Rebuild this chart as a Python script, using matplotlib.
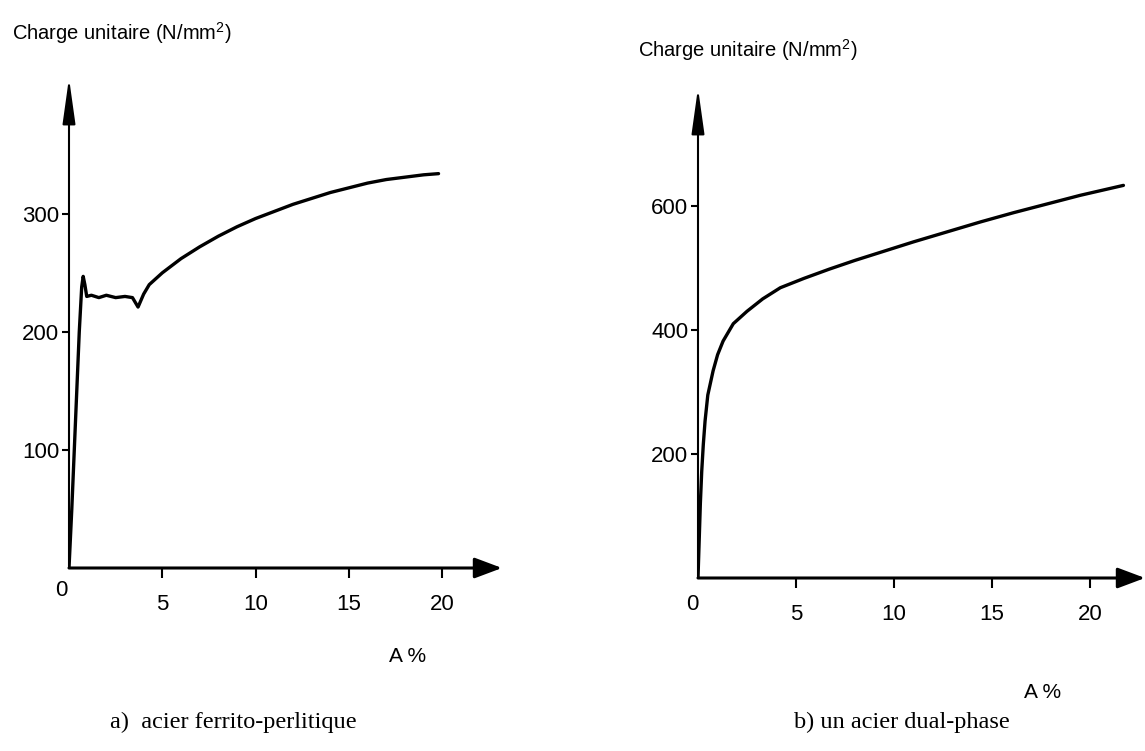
import matplotlib
matplotlib.use("Agg")
import matplotlib.pyplot as plt
from matplotlib import font_manager

ferrite_x = [0, 0.15, 0.35, 0.55, 0.68, 0.76, 0.85, 0.95, 1.2, 1.6, 2.0, 2.5, 3.0, 3.4, 3.7,
             4.0, 4.3, 5.0, 6.0, 7.0, 8.0, 9.0, 10.0, 11.0, 12.0, 13.0, 14.0, 15.0, 16.0,
             17.0, 18.0, 19.0, 19.8]
ferrite_y = [0, 50, 125, 200, 238, 247, 240, 230, 231, 229, 231, 229, 230, 229, 221,
             232, 240, 250, 262, 272, 281, 289, 296, 302, 308, 313, 318, 322, 326,
             329, 331, 333, 334]

dual_x = [0, 0.06, 0.12, 0.19, 0.27, 0.36, 0.5, 0.77, 1.0, 1.28, 1.8, 2.5, 3.3, 4.2, 5.4,
          6.7, 8.0, 9.3, 11.0, 12.7, 14.4, 16.1, 17.8, 19.5, 21.7]
dual_y = [0, 60, 120, 172, 215, 253, 295, 334, 360, 382, 410, 430, 450, 468, 483,
          498, 512, 525, 542, 558, 574, 589, 603, 617, 633]

x_ticks = [5, 10, 15, 20]
ferrite_yticks = [100, 200, 300]
dual_yticks = [200, 400, 600]

titre_y = "Charge unitaire (N/mm$^2$)"
titre_x = "A %"
legende_a = "a)  acier ferrito-perlitique"
legende_b = "b) un acier dual-phase"

W, H = 1145, 751
names = {f.name for f in font_manager.fontManager.ttflist}
sans = "Liberation Sans Narrow" if "Liberation Sans Narrow" in names else "Liberation Sans"
plt.rcParams["font.family"] = [sans, "DejaVu Sans"]
plt.rcParams["mathtext.fontset"] = "custom"
plt.rcParams["mathtext.rm"] = sans

fig = plt.figure(figsize=(W / 100, H / 100), dpi=100)


def px_axes(x0, y0, x1, y1):
    # x0,y0 = origine ; x1,y1 = pointes des fleches (pixels)
    return fig.add_axes([x0 / W, 1 - y0 / H, (x1 - x0) / W, (y0 - y1) / H])


def fig_text(x, y, s, **kw):
    fig.text(x / W, 1 - y / H, s, va="center", **kw)


def tracer(ax, xs, ys, xmax, ymax, yticks):
    ax.plot(xs, ys, color="black", lw=2.4, solid_joinstyle="round", solid_capstyle="round")
    ax.set_xlim(0, xmax)
    ax.set_ylim(0, ymax)
    for s in ax.spines.values():
        s.set_visible(False)
    ax.set_xticks(x_ticks)
    ax.set_yticks(yticks)
    ax.tick_params(axis="x", direction="out", length=7, width=1.5, pad=12, labelsize=16)
    ax.tick_params(axis="y", direction="out", length=5, width=1.5, pad=2, labelsize=16)
    # axes avec fleches
    ax.annotate("", xy=(1, 0), xytext=(0, 0), xycoords="axes fraction",
                arrowprops=dict(arrowstyle="-|>,head_length=1.2,head_width=0.45",
                                mutation_scale=14, lw=2.2, color="black",
                                shrinkA=0, shrinkB=0))
    ax.annotate("", xy=(0, 1), xytext=(0, 0), xycoords="axes fraction",
                arrowprops=dict(arrowstyle="-|>,head_length=2.0,head_width=0.28",
                                mutation_scale=14, lw=1.5, color="black",
                                shrinkA=0, shrinkB=0))


ax1 = px_axes(69, 568, 502, 78)
tracer(ax1, ferrite_x, ferrite_y, 23.2, 415, ferrite_yticks)

ax2 = px_axes(698, 578, 1145, 88)
tracer(ax2, dual_x, dual_y, 22.8, 790, dual_yticks)

fig_text(12, 33, titre_y, fontsize=14.5, ha="left")
fig_text(638, 50, titre_y, fontsize=14.5, ha="left")
fig_text(61, 590, "0", fontsize=16, ha="center")
fig_text(692, 604, "0", fontsize=16, ha="center")
fig_text(408, 656, titre_x, fontsize=15, ha="center")
fig_text(1043, 692, titre_x, fontsize=15, ha="center")

fig_text(233, 722, legende_a, fontsize=17.5, ha="center", family="Liberation Serif")
fig_text(902, 722, legende_b, fontsize=17.5, ha="center", family="Liberation Serif")

fig.savefig("out.png", dpi=100)
